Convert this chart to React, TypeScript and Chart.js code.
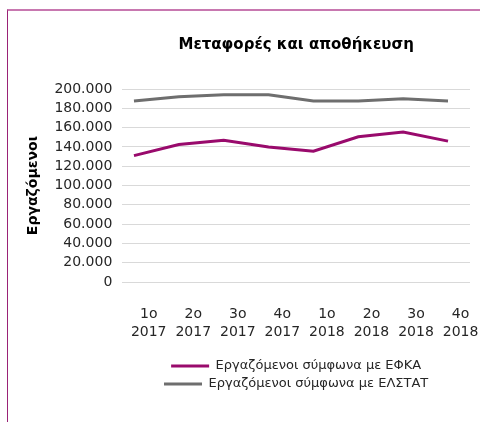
import React, { useEffect, useRef } from "react";
import { Chart, registerables } from "chart.js";

Chart.register(...registerables);

const CHART_TITLE = "Μεταφορές και αποθήκευση";
const Y_TITLE = "Εργαζόμενοι";
const QUARTERS = ["1ο", "2ο", "3ο", "4ο", "1ο", "2ο", "3ο", "4ο"];
const YEARS = ["2017", "2017", "2017", "2017", "2018", "2018", "2018", "2018"];
const SERIES_NAMES = ["Εργαζόμενοι σύμφωνα με ΕΦΚΑ", "Εργαζόμενοι σύμφωνα με ΕΛΣΤΑΤ"];
const EFKA = [131000, 142500, 147000, 140000, 135500, 150500, 155500, 146000];
const ELSTAT = [187500, 192000, 194000, 194000, 187500, 187500, 190000, 187500];
const Y_MIN = 0;
const Y_MAX = 200000;
const Y_STEP = 20000;

const FONT = "'DejaVu Sans', sans-serif";
const PURPLE = "#990a6c";
const GREY = "#6e6e6e";
const TEXT = "#262626";

const fmt = (v: number) => String(v).replace(/\B(?=(\d{3})+(?!\d))/g, ".");

export default function App() {
  const ref = useRef<HTMLCanvasElement | null>(null);

  useEffect(() => {
    if (!ref.current) return;
    const toPoints = (arr: number[]) => arr.map((y, i) => ({ x: i, y }));
    const chart = new Chart(ref.current, {
      type: "line",
      data: {
        datasets: [
          {
            label: SERIES_NAMES[0],
            data: toPoints(EFKA),
            borderColor: PURPLE,
            backgroundColor: PURPLE,
            borderWidth: 3,
            pointRadius: 0,
            tension: 0,
          },
          {
            label: SERIES_NAMES[1],
            data: toPoints(ELSTAT),
            borderColor: GREY,
            backgroundColor: GREY,
            borderWidth: 3,
            pointRadius: 0,
            tension: 0,
          },
        ],
      },
      options: {
        responsive: true,
        maintainAspectRatio: false,
        animation: false,
        layout: { padding: { top: 0, left: 0, right: 10, bottom: 21.5 } },
        plugins: {
          title: {
            display: true,
            text: CHART_TITLE,
            fullSize: false,
            color: "#000",
            font: { family: FONT, size: 15, weight: "bold" },
            padding: { top: 25, bottom: 35 },
          },
          legend: {
            position: "bottom",
            fullSize: false,
            labels: {
              boxWidth: 38,
              boxHeight: 3,
              padding: 5,
              color: TEXT,
              font: { family: FONT, size: 13 },
              generateLabels: (c: any) =>
                (Chart.defaults.plugins.legend.labels.generateLabels as any)(c).map((l: any) => ({
                  ...l,
                  lineWidth: 0,
                  fillStyle: l.strokeStyle,
                })),
            },
          },
          tooltip: { enabled: false },
        },
        scales: {
          x: { type: "linear", display: false, min: -0.26, max: 7.49 },
          xl: {
            type: "linear",
            position: "bottom",
            min: -0.593,
            max: 7.212,
            afterBuildTicks: (axis: any) => {
              axis.ticks = QUARTERS.map((_, i) => ({ value: i }));
            },
            ticks: {
              autoSkip: false,
              maxRotation: 0,
              minRotation: 0,
              padding: 0,
              color: TEXT,
              font: { family: FONT, size: 14, lineHeight: 18 / 14 },
              callback: (_v: any, i: number) => [QUARTERS[i], YEARS[i]],
            },
            grid: {
              display: true,
              drawOnChartArea: false,
              drawTicks: true,
              tickLength: 23,
              tickColor: "rgba(0,0,0,0)",
            },
            border: { display: false },
            title: {
              display: true,
              text: " ",
              padding: { top: 3.5, bottom: 0 },
              font: { family: FONT, size: 10, lineHeight: 1 },
            },
          },
          y: {
            min: Y_MIN,
            max: Y_MAX,
            ticks: {
              stepSize: Y_STEP,
              autoSkip: false,
              padding: 10,
              color: TEXT,
              font: { family: FONT, size: 14 },
              callback: (v: any) => fmt(Number(v)),
            },
            grid: { color: "#d9d9d9", lineWidth: 1, drawTicks: false },
            border: { display: false },
            title: {
              display: true,
              text: Y_TITLE,
              color: "#000",
              font: { family: FONT, size: 14, weight: "bold" },
              padding: { top: 16.6, bottom: 3 },
            },
          },
        },
      } as any,
    });
    return () => chart.destroy();
  }, []);

  return (
    <div
      style={{
        position: "fixed",
        left: 7,
        top: 9,
        width: 473,
        height: 413,
        borderTop: "2px solid #c878b0",
        borderLeft: "1px solid #9a2276",
        background: "#fff",
      }}
    >
      <div style={{ position: "relative", width: 472, height: 411 }}>
        <canvas ref={ref} />
      </div>
    </div>
  );
}
